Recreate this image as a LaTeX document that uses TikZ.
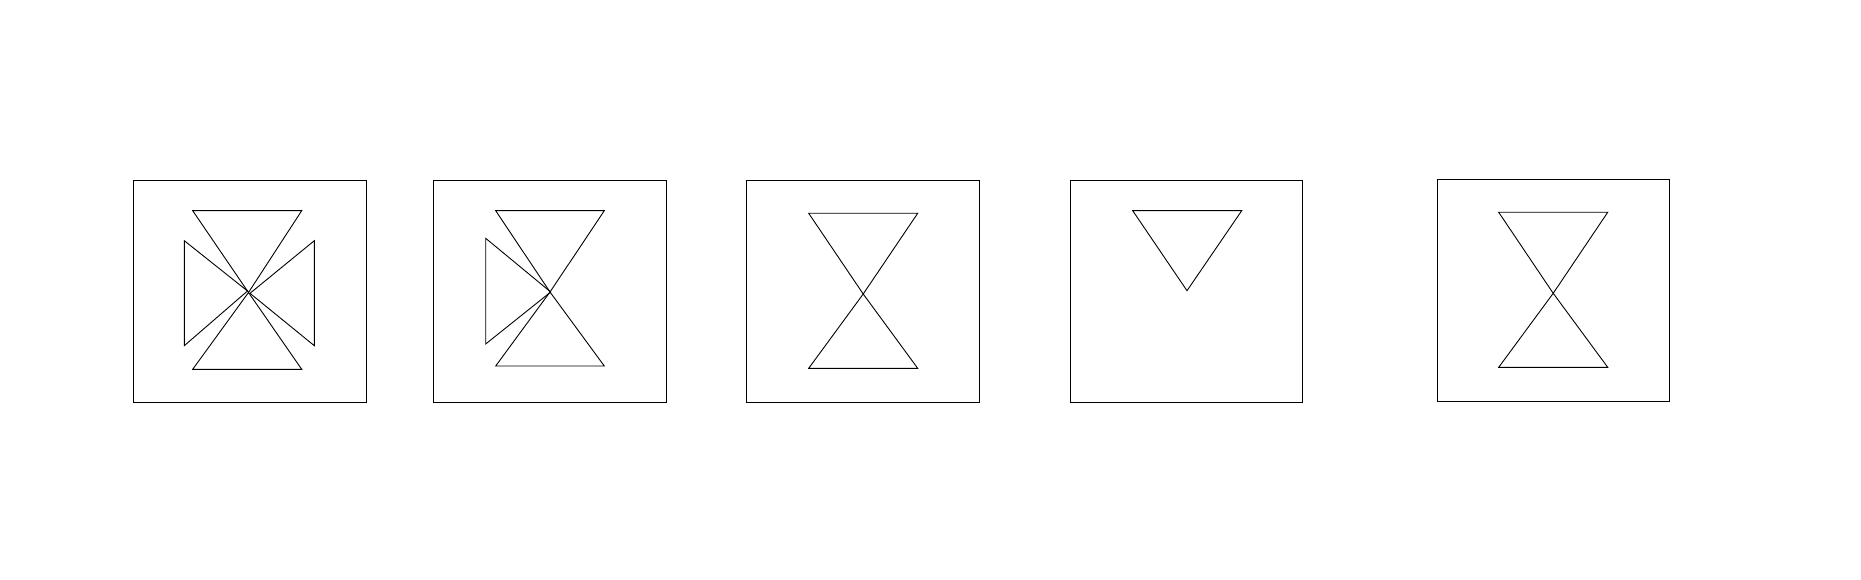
\documentclass[tikz,border=0pt]{standalone}
\begin{document}
\begin{tikzpicture}[x=1pt,y=-1pt,
  frame/.style={draw=black,line width=1pt},
  tri/.style={draw=black,line width=0.9pt,line join=miter}]
\useasboundingbox (0,0) rectangle (1861,580);
% Box 1
\draw[frame] (133.3,180.7) rectangle (366.7,402.3);
\draw[tri] (192.7,210.7) -- (301.7,210.7) -- (248.5,292.5) -- cycle;
\draw[tri] (192.7,369.3) -- (301.7,369.3) -- (248.5,292.5) -- cycle;
\draw[tri] (184.3,240.7) -- (184.3,345.7) -- (247.5,291) -- cycle;
\draw[tri] (314.3,240.7) -- (314.3,345.7) -- (250,293.3) -- cycle;
% Box 2
\draw[frame] (433.3,180.7) rectangle (666.7,402.3);
\draw[tri] (495.7,210.7) -- (604.3,210.7) -- (550,292) -- cycle;
\draw[tri] (495.7,366) -- (604.3,366) -- (550,292) -- cycle;
\draw[tri] (485.7,238.3) -- (485.7,344) -- (550.7,292) -- cycle;
% Box 3
\draw[frame] (746,180.3) rectangle (979.3,402.3);
\draw[tri] (808.7,213.3) -- (917.7,213.3) -- (863.2,294) -- cycle;
\draw[tri] (808.7,368.3) -- (917.7,368.3) -- (863.2,294) -- cycle;
% Box 4
\draw[frame] (1070.7,180.7) rectangle (1302.3,402.3);
\draw[tri] (1132.7,210.7) -- (1241.7,210.7) -- (1187,290.7) -- cycle;
% Box 5
\draw[frame] (1437.3,179.3) rectangle (1669.7,401);
\draw[tri] (1498.7,212.3) -- (1607.7,212.3) -- (1553.2,293.3) -- cycle;
\draw[tri] (1498.7,367.3) -- (1607.7,367.3) -- (1553.2,293.3) -- cycle;
\end{tikzpicture}
\end{document}
